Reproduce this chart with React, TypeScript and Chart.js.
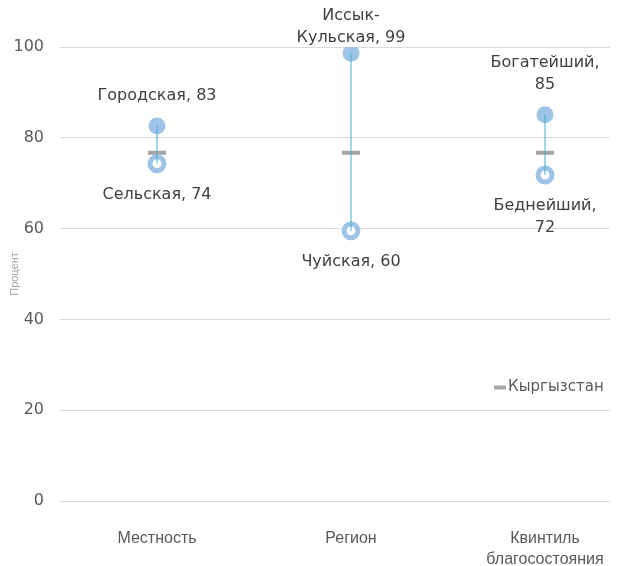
import React, { useEffect, useRef } from "react";
import { Chart, registerables } from "chart.js";

Chart.register(...registerables);

const categories: (string | string[])[] = ["Местность", "Регион", ["Квинтиль", "благосостояния"]];
const highValues = [82.6, 98.6, 85.1];
const lowValues = [74.3, 59.5, 71.8];
const nationalValues = [76.7, 76.7, 76.7];
const highLabels: string[][] = [["Городская, 83"], ["Иссык-", "Кульская, 99"], ["Богатейший,", "85"]];
const lowLabels: string[][] = [["Сельская, 74"], ["Чуйская, 60"], ["Беднейший,", "72"]];
const nationalName = "Кыргызстан";
const yTicks = [0, 20, 40, 60, 80, 100];

const LABEL_FONT = "'DejaVu Sans', Roboto, sans-serif";
const AXIS_FONT = "'Liberation Sans', Arial, sans-serif";
const BLUE = "#9DC3E6";
const TEAL = "#4BACC6";
const GRAY = "#A5A5A5";

const labelPlugin = {
  id: "pointLabels",
  afterDatasetsDraw(chart: any) {
    const { ctx, scales, chartArea } = chart;
    const xs = scales.x;
    const ys = scales.y;
    ctx.save();
    ctx.font = `16px ${LABEL_FONT}`;
    ctx.fillStyle = "#404040";
    ctx.textAlign = "center";
    ctx.textBaseline = "middle";
    const lh = 21.5;
    highLabels.forEach((lines, i) => {
      const x = xs.getPixelForValue(i);
      const y = ys.getPixelForValue(highValues[i]);
      const n = lines.length;
      let top = y - 30 - (n - 1) * lh;
      if (top < 16) top = 16;
      lines.forEach((t, k) => {
        ctx.fillText(t, x, top + k * lh);
      });
    });
    lowLabels.forEach((lines, i) => {
      const x = xs.getPixelForValue(i);
      const y = ys.getPixelForValue(lowValues[i]);
      lines.forEach((t, k) => {
        ctx.fillText(t, x, y + 31 + k * lh);
      });
    });
    // legend
    const ly = ys.getPixelForValue(25);
    const lx = chartArea.right - 116;
    ctx.strokeStyle = GRAY;
    ctx.lineWidth = 4;
    ctx.beginPath();
    ctx.moveTo(lx, ly);
    ctx.lineTo(lx + 12, ly);
    ctx.stroke();
    ctx.font = `15px ${LABEL_FONT}`;
    ctx.fillStyle = "#595959";
    ctx.textAlign = "left";
    ctx.fillText(nationalName, lx + 14, ly);
    ctx.restore();
  },
};

export default function App() {
  const ref = useRef<HTMLCanvasElement | null>(null);
  useEffect(() => {
    if (!ref.current) return;
    const lineSets = highValues.map((h, i) => ({
      type: "line" as const,
      data: [
        { x: i, y: lowValues[i] },
        { x: i, y: h },
      ],
      borderColor: TEAL,
      borderWidth: 1,
      pointRadius: 0,
      order: 0,
    }));
    const chart = new Chart(ref.current, {
      type: "scatter",
      data: {
        datasets: [
          ...lineSets,
          {
            type: "scatter",
            data: highValues.map((v, i) => ({ x: i, y: v })),
            backgroundColor: BLUE,
            borderWidth: 0,
            pointRadius: 8.5,
            pointHoverRadius: 8.5,
            order: 2,
          },
          {
            type: "scatter",
            data: lowValues.map((v, i) => ({ x: i, y: v })),
            backgroundColor: "#ffffff",
            borderColor: BLUE,
            borderWidth: 5,
            pointRadius: 7,
            pointHoverRadius: 7,
            order: 1,
          },
          {
            type: "scatter",
            data: nationalValues.map((v, i) => ({ x: i, y: v })),
            pointStyle: "line",
            borderColor: GRAY,
            borderWidth: 4,
            pointRadius: 9,
            pointHoverRadius: 9,
            order: 3,
          },
        ] as any,
      },
      options: {
        animation: false,
        responsive: true,
        maintainAspectRatio: false,
        layout: { padding: { top: 47, right: 27, left: 0, bottom: 0 } },
        plugins: { legend: { display: false }, tooltip: { enabled: false } },
        scales: {
          x: {
            type: "linear",
            min: -0.5,
            max: 2.335,
            grid: { display: false },
            border: { display: false },
            afterBuildTicks: (s: any) => {
              s.ticks = categories.map((_, i) => ({ value: i }));
            },
            afterFit: (s: any) => {
              s.height = 65;
            },
            ticks: {
              padding: 19,
              maxRotation: 0,
              autoSkip: false,
              color: "#595959",
              font: { family: AXIS_FONT, size: 16, lineHeight: 1.32 },
              callback: (v: any) => categories[v as number] as any,
            },
          },
          y: {
            min: 0,
            max: 100,
            afterBuildTicks: (s: any) => {
              s.ticks = yTicks.map((v) => ({ value: v }));
            },
            afterFit: (s: any) => {
              s.width = 60;
            },
            grid: { color: "#D9D9D9", lineWidth: 1, drawTicks: false },
            border: { display: false },
            ticks: {
              padding: 16,
              color: "#595959",
              font: { family: LABEL_FONT, size: 16 },
            },
            title: {
              display: true,
              text: "Процент",
              color: "#A6A6A6",
              font: { family: AXIS_FONT, size: 11 },
              padding: { top: 8, bottom: 0 },
            },
          },
        },
      },
      plugins: [labelPlugin],
    } as any);
    return () => chart.destroy();
  }, []);
  return (
    <div style={{ position: "absolute", left: 0, top: 0, width: 637, height: 566 }}>
      <canvas ref={ref} />
    </div>
  );
}
